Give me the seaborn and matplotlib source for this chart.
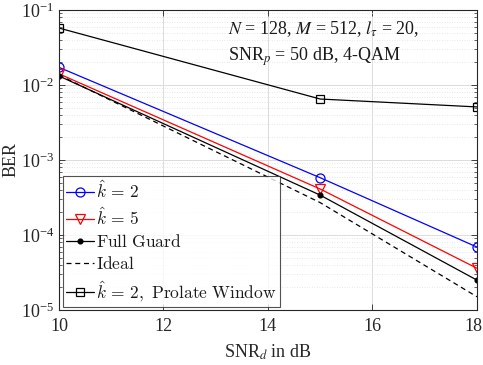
import numpy as np
import pandas as pd
import matplotlib
matplotlib.use("Agg")
import matplotlib.pyplot as plt
import matplotlib.transforms as mtransforms
import seaborn as sns
from matplotlib.ticker import LogLocator, NullFormatter, LogFormatterSciNotation

# SNR_d values (dB) and BER per receiver configuration
snr_d = [10, 15, 18]
ber_k2 = [0.0172, 5.8e-4, 6.9e-5]
ber_k5 = [0.0141, 4.1e-4, 3.6e-5]
ber_full_guard = [0.0132, 3.4e-4, 2.5e-5]
ber_ideal = [0.0136, 2.7e-4, 1.5e-5]
ber_prolate = [0.0575, 0.0065, 0.0051]

labels = [r"$\hat{k}\,=\,2$", r"$\hat{k}\,=\,5$", r"$\mathrm{Full\ Guard}$",
          r"$\mathrm{Ideal}$", r"$\hat{k}\,=\,2\mathrm{,\ Prolate\ Window}$"]

sns.set_theme(style="white")
plt.rcParams["font.family"] = ["Liberation Serif", "DejaVu Serif"]
plt.rcParams["mathtext.fontset"] = "stix"

fig = plt.figure(figsize=(4.83, 3.65), dpi=100)
ax = fig.add_axes([0.122, 0.1507, 0.8656, 0.8219])

series = [
    (ber_k2, dict(color="#0000ff", marker="o", markersize=6.5, markerfacecolor="none",
                  markeredgecolor="#0000ff", linestyle="-")),
    (ber_k5, dict(color="#ff0000", marker="v", markersize=7, markerfacecolor="none",
                  markeredgecolor="#ff0000", linestyle="-")),
    (ber_full_guard, dict(color="black", marker="o", markersize=3.5, markerfacecolor="black",
                          markeredgecolor="black", linestyle="-")),
    (ber_ideal, dict(color="black", marker=None, linestyle=(0, (4, 3)))),
    (ber_prolate, dict(color="black", marker="s", markersize=5.5, markerfacecolor="none",
                       markeredgecolor="black", linestyle="-")),
]

for (vals, style), lab in zip(series, labels):
    df = pd.DataFrame({"snr": snr_d, "ber": vals})
    sns.lineplot(data=df, x="snr", y="ber", ax=ax, label=lab, linewidth=0.9,
                 markeredgewidth=0.9, **style)

ax.set_yscale("log")
ax.set_xlim(10, 18)
ax.set_ylim(1e-5, 1e-1)
ax.set_xticks([10, 12, 14, 16, 18])
ax.yaxis.set_major_locator(LogLocator(base=10, numticks=10))
ax.yaxis.set_minor_locator(LogLocator(base=10, subs=np.arange(2, 10), numticks=20))
ax.yaxis.set_minor_formatter(NullFormatter())
ax.yaxis.set_major_formatter(LogFormatterSciNotation())

ax.grid(True, which="major", color="#dcdcdc", linewidth=0.7, linestyle="-")
ax.grid(True, which="minor", axis="y", color="#e0e0e0", linewidth=0.6, linestyle=(0, (1, 2)))
ax.set_axisbelow(True)

for sp in ax.spines.values():
    sp.set_color("#262626")
    sp.set_linewidth(0.8)
ax.tick_params(which="both", direction="in", top=True, right=True, bottom=True, left=True,
               colors="#262626", labelsize=13, labelcolor="#262626")
ax.tick_params(which="major", length=4, width=0.6)
ax.tick_params(which="minor", length=2, width=0.5)
ax.tick_params(axis="x", pad=6)

# keep the rightmost x tick label inside the canvas
fig.canvas.draw()
last = ax.get_xticklabels()[-1]
last.set_transform(last.get_transform() +
                   mtransforms.ScaledTranslation(-4 / 100, 0, fig.dpi_scale_trans))

ax.set_xlabel(r"SNR$_{d}$ in dB", fontsize=13, labelpad=5, color="#262626")
ax.set_ylabel("BER", fontsize=13, labelpad=1, color="#262626")

ax.text(0.405, 0.935, r"$N$ = 128, $M$ = 512, $l_{\tau}$ = 20,", transform=ax.transAxes,
        fontsize=13, ha="left", va="center", color="#1a1a1a")
ax.text(0.405, 0.845, r"SNR$_{p}$ = 50 dB, 4-QAM", transform=ax.transAxes,
        fontsize=13, ha="left", va="center", color="#1a1a1a")

leg = ax.legend(loc="lower left", bbox_to_anchor=(0.009, 0.01), borderaxespad=0,
                fancybox=False, frameon=True, fontsize=12.5, handlelength=1.6,
                handletextpad=0.1, labelspacing=0.3, borderpad=0.2)
leg.get_frame().set_edgecolor("#262626")
leg.get_frame().set_linewidth(0.8)
for t in leg.get_texts():
    t.set_math_fontfamily("cm")
    t.set_color("#1a1a1a")

fig.savefig("out.png", dpi=100)
